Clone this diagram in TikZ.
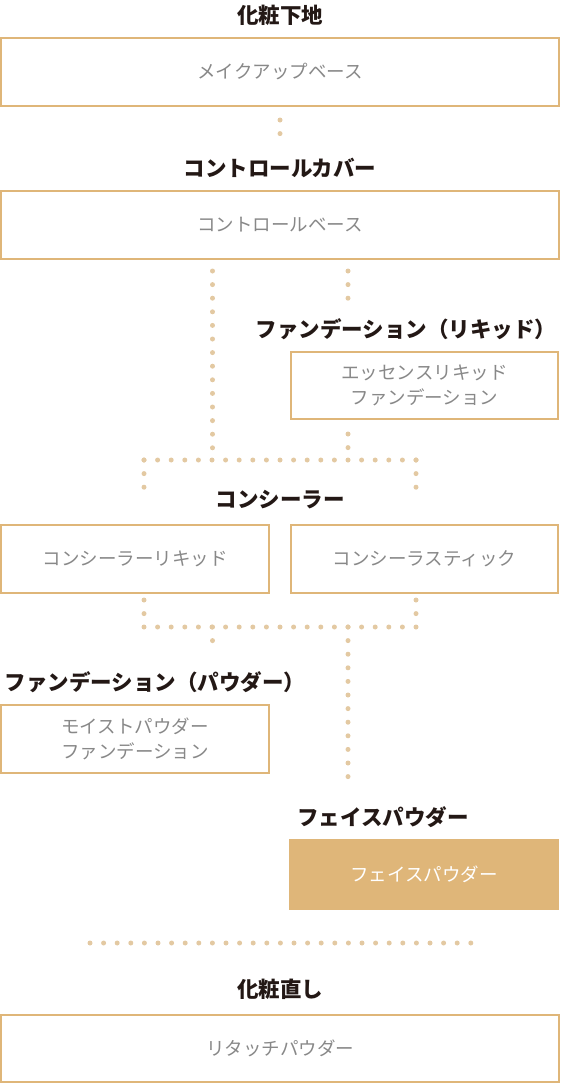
\documentclass[tikz,border=0pt]{standalone}
\usepackage{fontspec}
\newfontfamily\jpfont{Noto Sans CJK JP}
\usetikzlibrary{calc}
\definecolor{tan}{HTML}{DFB679}
\definecolor{dotcol}{HTML}{E3C9A2}
\definecolor{headcol}{HTML}{231815}
\definecolor{graytext}{HTML}{888888}

\begin{document}
\begin{tikzpicture}[x=1pt,y=-1pt]
      \tikzstyle{head}=[font=\jpfont\bfseries\fontsize{21.5}{21.5}\selectfont,text=headcol,inner sep=0pt]
      \tikzstyle{box}=[draw=tan,line width=2pt,text=graytext,align=center,inner sep=0pt,
        font=\jpfont\fontsize{18.5}{24.5}\selectfont]
      \tikzstyle{dots}=[dotcol,line width=5pt,line cap=round,dash pattern=on 0pt off 13.6pt]
      \useasboundingbox (0,0) rectangle (560,1084);
      % headings
      \node[head] (h_1) at (280,15) {化粧下地};
      \node[head] (h_2) at (280,168) {コントロールカバー};
      \node[head] (h_3) at (406,329) {ファンデーション（リキッド）};
      \node[head] (h_4) at (280,500) {コンシーラー};
      \node[head] (h_5) at (155,682) {ファンデーション（パウダー）};
      \node[head] (h_6) at (383,817) {フェイスパウダー};
      \node[head] (h_7) at (280,989) {化粧直し};
      % boxes
      \node[box,minimum width=558pt,minimum height=68pt] (b_1) at (280,72) {メイクアップベース};
      \node[box,minimum width=558pt,minimum height=68pt] (b_2) at (280,225) {コントロールベース};
      \node[box,minimum width=267pt,minimum height=67pt] (b_3) at (424.5,385.5) {エッセンスリキッド\\ファンデーション};
      \node[box,minimum width=268pt,minimum height=68pt] (b_4) at (135,559) {コンシーラーリキッド};
      \node[box,minimum width=267pt,minimum height=68pt] (b_5) at (424.5,559) {コンシーラスティック};
      \node[box,minimum width=268pt,minimum height=68pt] (b_6) at (135,739) {モイストパウダー\\ファンデーション};
      \node[box,fill=tan,text=white,minimum width=268pt,minimum height=69pt] (b_7) at (424,874.5) {フェイスパウダー};
      \node[box,minimum width=558pt,minimum height=67pt] (b_8) at (280,1048.5) {リタッチパウダー};
      % dotted connectors
      \coordinate (d_1) at (280,120);
      \coordinate (d_2) at (280,147);
      \coordinate (d_3) at (212.5,271);
      \coordinate (d_4) at (212.5,460);
      \coordinate (d_5) at (348,271);
      \coordinate (d_6) at (348,299);
      \coordinate (d_7) at (348,434);
      \coordinate (d_8) at (348,460);
      \coordinate (d_9) at (144,460);
      \coordinate (d_10) at (416,460);
      \coordinate (d_11) at (144,488);
      \coordinate (d_12) at (416,488);
      \coordinate (d_13) at (144,600);
      \coordinate (d_14) at (416,600);
      \coordinate (d_15) at (144,627);
      \coordinate (d_16) at (416,627);
      \coordinate (d_17) at (212.5,627);
      \coordinate (d_18) at (212.5,654);
      \coordinate (d_19) at (348,627);
      \coordinate (d_20) at (348,790);
      \coordinate (d_21) at (90,943);
      \coordinate (d_22) at (471,943);
      \draw[dots] (d_1) -- (d_2);
      \draw[dots] (d_3) -- (d_4);
      \draw[dots] (d_5) -- (d_6);
      \draw[dots] (d_7) -- (d_8);
      \draw[dots] (d_9) -- (d_10);
      \draw[dots] (d_9) -- (d_11);
      \draw[dots] (d_10) -- (d_12);
      \draw[dots] (d_13) -- (d_15);
      \draw[dots] (d_14) -- (d_16);
      \draw[dots] (d_15) -- (d_16);
      \draw[dots] (d_17) -- (d_18);
      \draw[dots] (d_19) -- (d_20);
      \draw[dots] (d_21) -- (d_22);
\end{tikzpicture}
\end{document}
